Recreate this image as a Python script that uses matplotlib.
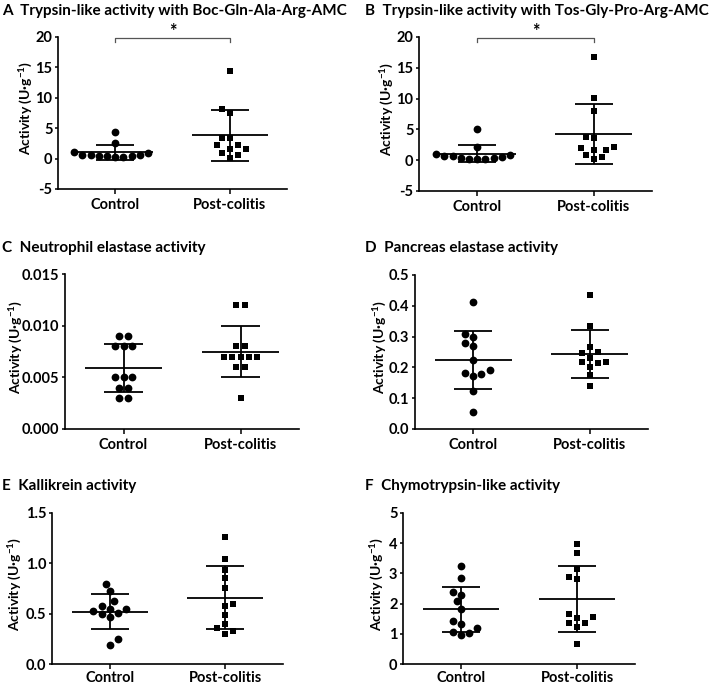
import numpy as np
import matplotlib
matplotlib.use('Agg')
import matplotlib.pyplot as plt
from matplotlib.ticker import FormatStrFormatter

plt.rcParams['font.family'] = ['Lato', 'DejaVu Sans']
plt.rcParams['font.weight'] = 'bold'
plt.rcParams['axes.unicode_minus'] = False
plt.rcParams['mathtext.fontset'] = 'custom'
plt.rcParams['mathtext.rm'] = 'Lato:bold'
plt.rcParams['mathtext.it'] = 'Lato:bold'
plt.rcParams['mathtext.bf'] = 'Lato:bold'

# ---------------- data ----------------
categories = ['Control', 'Post-colitis']

A_title = 'A  Trypsin-like activity with Boc-Gln-Ala-Arg-AMC'
A_control = [0.99, 0.60, 0.44, 0.38, 0.33, 0.33, 0.38, 0.55, 0.66, 1.15, 2.58, 4.44]
A_post = [14.47, 8.17, 7.46, 3.45, 3.45, 2.19, 2.19, 1.53, 1.53, 0.99, 0.55, 0.16]
A_yticks = [-5, 0, 5, 10, 15, 20]

B_title = 'B  Trypsin-like activity with Tos-Gly-Pro-Arg-AMC'
B_control = [0.92, 0.65, 0.54, 0.33, 0.22, 0.22, 0.27, 0.43, 0.65, 0.98, 2.10, 5.10]
B_post = [16.70, 10.05, 8.00, 3.64, 3.75, 2.17, 1.96, 1.68, 1.58, 0.87, 0.54, 0.22]
B_yticks = [-5, 0, 5, 10, 15, 20]

C_title = 'C  Neutrophil elastase activity'
C_control = [0.009, 0.009, 0.008, 0.008, 0.008, 0.005, 0.005, 0.005, 0.004, 0.004, 0.003, 0.003]
C_post = [0.012, 0.012, 0.008, 0.008, 0.007, 0.007, 0.007, 0.007, 0.007, 0.006, 0.006, 0.003]
C_yticks = [0.000, 0.005, 0.010, 0.015]

D_title = 'D  Pancreas elastase activity'
D_control = [0.411, 0.309, 0.298, 0.279, 0.268, 0.224, 0.193, 0.181, 0.178, 0.173, 0.124, 0.054]
D_post = [0.435, 0.335, 0.266, 0.249, 0.247, 0.232, 0.216, 0.214, 0.216, 0.200, 0.174, 0.141]
D_yticks = [0.0, 0.1, 0.2, 0.3, 0.4, 0.5]

E_title = 'E  Kallikrein activity'
E_control = [0.792, 0.724, 0.626, 0.577, 0.551, 0.551, 0.522, 0.505, 0.492, 0.466, 0.251, 0.189]
E_post = [1.265, 1.047, 0.929, 0.851, 0.753, 0.600, 0.577, 0.483, 0.398, 0.362, 0.329, 0.297]
E_yticks = [0.0, 0.5, 1.0, 1.5]

F_title = 'F  Chymotrypsin-like activity'
F_control = [3.25, 2.84, 2.37, 2.29, 2.07, 1.82, 1.44, 1.32, 1.20, 1.07, 1.04, 0.96]
F_post = [3.99, 3.66, 3.14, 2.87, 2.82, 1.67, 1.53, 1.56, 1.36, 1.36, 1.21, 0.65]
F_yticks = [0, 1, 2, 3, 4, 5]

significance = {'A': '*', 'B': '*'}
ylabel = 'Activity (U\u00b7g$^{-1}$)'

# ---------------- layout ----------------
W, H = 709, 688
fig = plt.figure(figsize=(W / 100, H / 100), dpi=100)

panels = [
    ('A', A_title, A_control, A_post, A_yticks, '%d', (58, 37, 287, 189), 2, 26, 3),
    ('B', B_title, B_control, B_post, B_yticks, '%d', (419, 37, 652, 191), 365, 387, 3),
    ('C', C_title, C_control, C_post, C_yticks, '%.3f', (65, 274, 299, 429), 2, 16, 3),
    ('D', D_title, D_control, D_post, D_yticks, '%.1f', (415, 275, 648, 429), 365, 380, 3),
    ('E', E_title, E_control, E_post, E_yticks, '%.1f', (52, 513, 283, 664), 2, 15, 1.5),
    ('F', F_title, F_control, F_post, F_yticks, '%d', (403, 513, 635, 664), 365, 377, 1.5),
]
title_baselines = {'A': 15, 'B': 15, 'C': 252, 'D': 252, 'E': 490, 'F': 490}

MARK_S = 8.2  # marker spacing in pixels


def swarm_offsets(vals, ypx, xpx, s=MARK_S):
    vals = np.asarray(vals, float)
    y = vals * ypx
    order = np.argsort(y, kind='stable')
    step = s / 2
    cands = [0.0]
    for k in range(1, 40):
        cands += [k * step, -k * step]
    xs = np.full(len(vals), np.nan)
    placed = []
    for i in order:
        bal = np.nansum(xs) if placed else 0.0
        cs = sorted(cands, key=lambda c: (abs(c), c if bal > 0 else -c))
        for c in cs:
            ok = True
            for j in placed:
                if (c - xs[j]) ** 2 + (y[i] - y[j]) ** 2 < (0.95 * s) ** 2:
                    ok = False
                    break
            if ok:
                xs[i] = c
                placed.append(i)
                break
    for v in np.unique(vals):
        idx = np.where(np.isclose(vals, v))[0]
        if len(idx) < 2:
            continue
        others = [j for j in range(len(vals)) if j not in idx and abs(y[j] - y[idx[0]]) < s]
        if not others:
            xs[idx] -= xs[idx].mean()
    return xs / xpx


for key, title, ctrl, post, yticks, fmt, (l, t, r, b), tx, ylx, xpad in panels:
    ax = fig.add_axes([l / W, 1 - b / H, (r - l) / W, (b - t) / H])
    ymin, ymax = yticks[0], yticks[-1]
    ax.set_xlim(0.5, 2.5)
    ax.set_ylim(ymin, ymax)
    xpx = (r - l) / 2.0
    ypx = (b - t) / (ymax - ymin)

    for gi, (vals, marker, ms) in enumerate([(ctrl, 'o', 5.6), (post, 's', 5.0)]):
        xc = gi + 1
        offs = swarm_offsets(vals, ypx, xpx)
        ax.plot(xc + offs, vals, linestyle='none', marker=marker, markersize=ms,
                color='black', markeredgewidth=0, zorder=3, clip_on=False)
        m = np.mean(vals)
        sd = np.std(vals, ddof=1)
        ax.hlines(m, xc - 0.33, xc + 0.33, color='black', lw=1.3, zorder=4)
        ax.vlines(xc, m - sd, m + sd, color='black', lw=1.3, zorder=4)
        ax.hlines([m - sd, m + sd], xc - 0.165, xc + 0.165, color='black', lw=1.3, zorder=4)

    ax.set_xticks([1, 2])
    ax.set_xticklabels(categories, fontsize=10.5, fontweight='bold')
    ax.set_yticks(yticks)
    ax.yaxis.set_major_formatter(FormatStrFormatter(fmt))
    for lab in ax.get_yticklabels():
        lab.set_fontweight('bold')
    ax.tick_params(axis='y', labelsize=10.5, length=2.5, width=1.1, pad=1.5)
    ax.tick_params(axis='x', length=3.5, width=1.1, pad=xpad)
    for sp in ['top', 'right']:
        ax.spines[sp].set_visible(False)
    for sp in ['left', 'bottom']:
        ax.spines[sp].set_linewidth(1.2)
    ax.set_ylabel(ylabel, fontsize=10, fontweight='bold', va='center')
    ax.yaxis.set_label_coords((ylx - l) / (r - l), 0.53)

    if key in significance:
        yr = ymax - ymin
        ax.plot([1, 1, 2, 2], [ymax - 0.03 * yr, ymax - 0.005 * yr, ymax - 0.005 * yr, ymax - 0.03 * yr],
                color='#555555', lw=0.9, clip_on=False)
        ax.text(1.5, ymax + 0.035 * yr, significance[key], ha='center', va='center',
                fontsize=13, fontweight='bold')

    fig.text(tx / W, 1 - title_baselines[key] / H, title, ha='left', va='baseline',
             fontsize=11, fontweight='bold')

fig.savefig('out.png', dpi=100)
